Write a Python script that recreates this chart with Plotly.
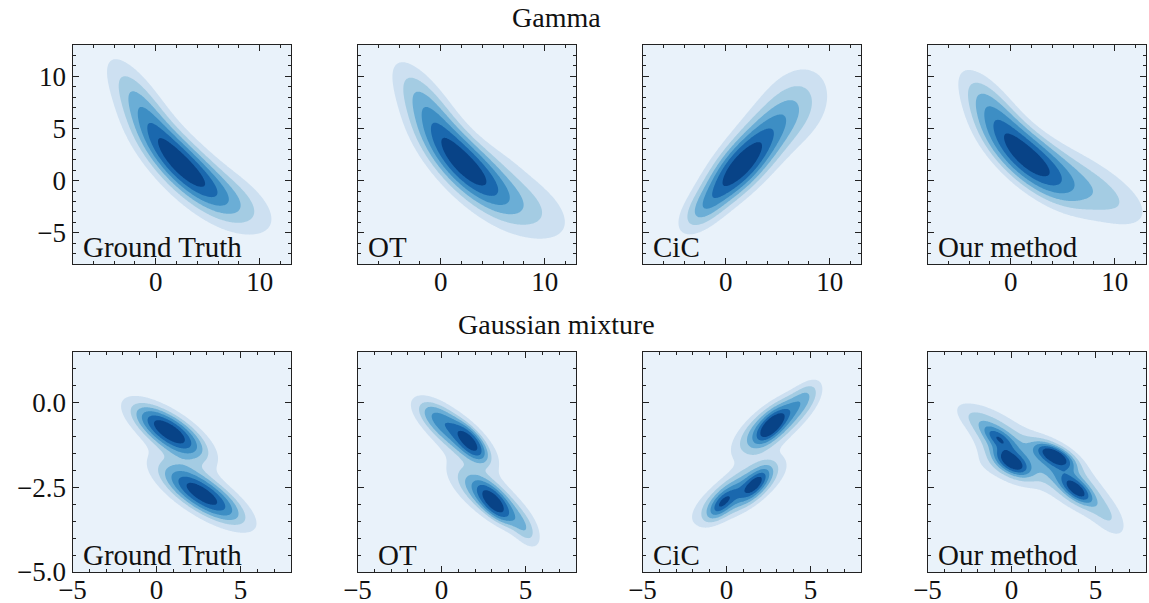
import numpy as np
import plotly.graph_objects as go

# ---------------- data (mixture components) ----------------
# each component: (mean_x, mean_y, sd_x, sd_y, correlation, weight)
gamma_truth = [
    (2.5, 1.5, 2.65, 2.65, -0.75, 0.47),
    (-1.3, 7.0, 2.15, 3.10, -0.76, 0.24),
    (7.3, -1.8, 2.90, 2.20, -0.58, 0.21),
    (3.0, 1.0, 4.60, 4.60, -0.76, 0.08),
]
gamma_ot = [
    (2.3, 1.5, 2.60, 2.60, -0.73, 0.46),
    (-1.2, 6.8, 2.10, 2.95, -0.73, 0.22),
    (7.6, -2.0, 3.50, 2.60, -0.57, 0.25),
    (7.2, 3.2, 1.80, 1.50, 0.00, 0.015),
    (3.0, 1.0, 4.60, 4.60, -0.76, 0.06),
]
gamma_cic = [
    (0.9, 0.8, 2.00, 2.08, 0.63, 0.35),
    (3.5, 3.9, 2.32, 2.57, 0.60, 0.33),
    (6.9, 7.4, 2.40, 2.70, 0.16, 0.22),
    (-2.2, -2.8, 1.52, 1.52, 0.53, 0.10),
]
gamma_ours = [
    (1.6, 2.1, 2.62, 2.44, -0.72, 0.44),
    (-1.8, 6.8, 2.06, 2.64, -0.70, 0.20),
    (6.8, -0.2, 3.85, 2.72, -0.64, 0.31),
    (11.0, -2.5, 2.40, 1.80, -0.40, 0.03),
]
mix_truth = [
    (0.75, -0.85, 1.50, 0.52, -0.72, 0.44),
    (2.75, -2.72, 1.72, 0.58, -0.76, 0.50),
    (1.2, -1.7, 1.60, 0.85, -0.50, 0.05),
]
mix_ot = [
    (0.95, -0.96, 1.42, 0.56, -0.74, 0.29),
    (1.7, -1.18, 0.45, 0.22, -0.53, 0.08),
    (2.94, -2.84, 1.42, 0.56, -0.74, 0.32),
    (3.1, -2.95, 0.45, 0.22, -0.53, 0.08),
    (1.2, -1.9, 1.60, 0.90, -0.45, 0.05),
    (-0.3, -0.4, 0.88, 0.32, -0.545, 0.06),
    (5.0, -3.8, 0.52, 0.32, -0.42, 0.04),
]
mix_cic = [
    (2.85, -0.6, 1.36, 0.52, 0.72, 0.37),
    (2.65, -0.72, 0.45, 0.22, 0.53, 0.06),
    (0.7, -2.65, 1.64, 0.55, 0.745, 0.36),
    (-0.3, -3.0, 0.42, 0.19, 0.51, 0.05),
    (1.75, -2.4, 0.49, 0.24, 0.60, 0.07),
    (1.7, -1.7, 1.40, 0.80, 0.45, 0.05),
    (4.7, 0.2, 0.58, 0.28, 0.47, 0.04),
]
mix_ours = [
    (-0.5, -1.3, 1.16, 0.68, -0.58, 0.28),
    (0.05, -1.8, 0.57, 0.22, -0.42, 0.07),
    (-0.8, -1.04, 0.35, 0.14, -0.34, 0.02),
    (-2.3, -0.45, 0.84, 0.33, -0.58, 0.04),
    (3.1, -2.15, 1.56, 0.74, -0.72, 0.36),
    (2.6, -1.55, 0.64, 0.19, -0.49, 0.08),
    (3.9, -2.6, 0.40, 0.21, -0.43, 0.05),
    (5.8, -3.4, 0.66, 0.43, -0.545, 0.05),
    (-1.5, -1.9, 1.05, 0.25, -0.50, 0.02),
]
kde_bandwidth = 0.2  # smoothing factor applied to the overall covariance

row_titles = ["Gamma", "Gaussian mixture"]
method_labels = ["Ground Truth", "OT", "CiC", "Our method"]
rows_data = [[gamma_truth, gamma_ot, gamma_cic, gamma_ours],
             [mix_truth, mix_ot, mix_cic, mix_ours]]
x_ranges = [[-8, 13], [-5, 8]]
y_ranges = [[-8, 13], [-5, 1.5]]
x_major = [10, 5]
x_minor = [2, 1]
y_major = [5, 2.5]
y_minor = [1, 0.5]
y_fmt = ["d", ".1f"]
n_bands = 7
band_colors = ["#e9f2fa", "#cde0f1", "#a4cce3", "#6baed6", "#3d8ec4", "#1a68ae", "#084387"]

# ---------------- layout geometry (pixels) ----------------
W, H = 1149, 603
left_px = [72.5, 357.5, 642.5, 927.5]
width_px = 218.5
row_top_px = [45, 351.5]
row_bot_px = [264, 572]
FONT = "Liberation Serif"
INK = "#222222"


def density(comps, X, Y):
    arr = np.array(comps, dtype=float)
    w = arr[:, 5] / arr[:, 5].sum()
    mu = arr[:, :2]
    covs = []
    for mx, my, sx, sy, r, _ in arr:
        covs.append(np.array([[sx * sx, r * sx * sy], [r * sx * sy, sy * sy]]))
    m_all = (w[:, None] * mu).sum(0)
    tot = np.zeros((2, 2))
    for k in range(len(w)):
        d = (mu[k] - m_all)[:, None]
        tot += w[k] * (covs[k] + d @ d.T)
    Z = np.zeros_like(X)
    for k in range(len(w)):
        C = covs[k] + kde_bandwidth ** 2 * tot
        Ci = np.linalg.inv(C)
        dx, dy = X - mu[k, 0], Y - mu[k, 1]
        q = Ci[0, 0] * dx * dx + 2 * Ci[0, 1] * dx * dy + Ci[1, 1] * dy * dy
        Z += w[k] * np.exp(-0.5 * q) / (2 * np.pi * np.sqrt(np.linalg.det(C)))
    return Z


def band_index(Z):
    vals = np.sort(Z.ravel())[::-1]
    cum = np.cumsum(vals) / vals.sum()
    levels = [Z.min()]
    for k in range(1, n_bands):
        idx = np.searchsorted(cum, 1 - k / n_bands)
        levels.append(vals[min(idx, len(vals) - 1)])
    levels.append(Z.max())
    levels = np.array(levels)
    for i in range(1, len(levels)):
        if levels[i] <= levels[i - 1]:
            levels[i] = levels[i - 1] * (1 + 1e-9) + 1e-15
    return np.interp(Z, levels, np.arange(n_bands + 1))


colorscale = [[k / (n_bands - 1), c] for k, c in enumerate(band_colors)]

fig = go.Figure()
annotations = []
for r in range(2):
    xs = np.linspace(x_ranges[r][0], x_ranges[r][1], 280)
    ys = np.linspace(y_ranges[r][0], y_ranges[r][1], 280)
    X, Y = np.meshgrid(xs, ys)
    for c in range(4):
        i = r * 4 + c + 1
        Z = density(rows_data[r][c], X, Y)
        F = band_index(Z)
        xa = "x" if i == 1 else f"x{i}"
        ya = "y" if i == 1 else f"y{i}"
        fig.add_trace(go.Contour(
            x=xs, y=ys, z=F, xaxis=xa, yaxis=ya,
            contours=dict(start=1, end=n_bands - 1, size=1, coloring="fill", showlines=False),
            line=dict(width=0), colorscale=colorscale, showscale=False,
            hoverinfo="skip"))
        x0 = left_px[c] / W
        x1 = (left_px[c] + width_px) / W
        y0 = 1 - row_bot_px[r] / H
        y1 = 1 - row_top_px[r] / H
        axis_common = dict(showgrid=False, zeroline=False, showline=True, linecolor=INK,
                           linewidth=1.2, mirror="allticks", ticks="inside", ticklen=6,
                           tickwidth=1.1, tickcolor=INK, automargin=False,
                           tickfont=dict(family=FONT, size=27, color="#111111"))
        xkey = "xaxis" if i == 1 else f"xaxis{i}"
        ykey = "yaxis" if i == 1 else f"yaxis{i}"
        fig.update_layout(**{
            xkey: dict(domain=[x0, x1], anchor=ya, range=x_ranges[r], dtick=x_major[r], tick0=0,
                       ticklabelstandoff=-7,
                       minor=dict(dtick=x_minor[r], tick0=0, ticks="inside", ticklen=3,
                                  tickcolor=INK, showgrid=False),
                       **axis_common),
            ykey: dict(domain=[y0, y1], anchor=xa, range=y_ranges[r], dtick=y_major[r], tick0=0,
                       tickformat=y_fmt[r], showticklabels=(c == 0),
                       minor=dict(dtick=y_minor[r], tick0=0, ticks="inside", ticklen=3,
                                  tickcolor=INK, showgrid=False),
                       **axis_common),
        })
        annotations.append(dict(
            text=method_labels[c], xref=f"{xa} domain", yref=f"{ya} domain",
            x=0.04 if not (r == 1 and c == 1) else 0.085, y=-0.005, xanchor="left", yanchor="bottom",
            showarrow=False, font=dict(family=FONT, size=29, color="#111111")))
    annotations.append(dict(
        text=row_titles[r], xref="paper", yref="paper", x=556 / W,
        y=1 - (row_top_px[r] - 27) / H, xanchor="center", yanchor="middle",
        showarrow=False, font=dict(family=FONT, size=28, color="#111111")))

fig.update_layout(width=W, height=H, margin=dict(l=0, r=0, t=0, b=0),
                  paper_bgcolor="white", plot_bgcolor=band_colors[0],
                  annotations=annotations, showlegend=False)
fig.write_html("out.html")
